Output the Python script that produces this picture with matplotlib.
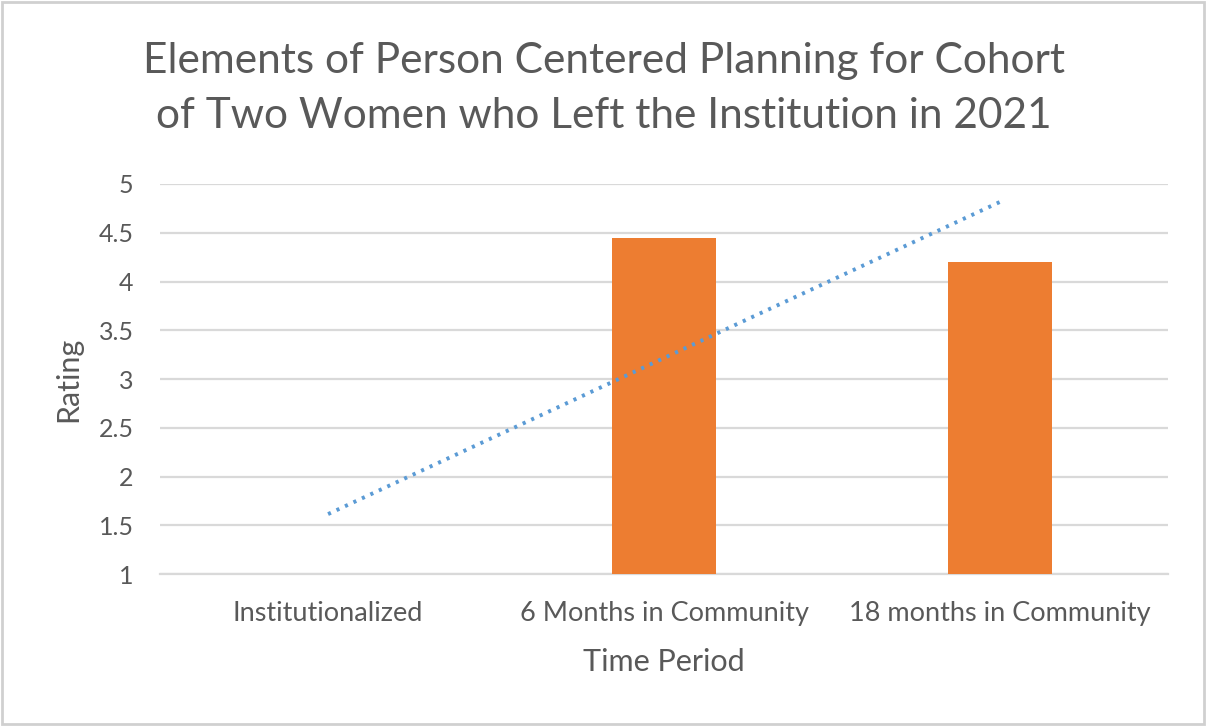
import numpy as np
import matplotlib.pyplot as plt
from matplotlib.patches import Rectangle

plt.rcParams['font.family'] = ['Lato', 'DejaVu Sans']

categories = ['Institutionalized', '6 Months in Community', '18 months in Community']
ratings = [1.0, 4.45, 4.2]
y_ticks = [1, 1.5, 2, 2.5, 3, 3.5, 4, 4.5, 5]
y_tick_labels = ['1', '1.5', '2', '2.5', '3', '3.5', '4', '4.5', '5']

text_grey = '#595959'

fig = plt.figure(figsize=(12.08, 7.26), dpi=100)
ax = fig.add_axes([0.1325, 0.209, 0.8345, 0.5376])

x = np.arange(len(categories))
ax.bar(x, ratings, width=0.31, bottom=0, color='#ED7D31', zorder=3)

# linear trendline like the spreadsheet one
slope, intercept = np.polyfit(x, ratings, 1)
ax.plot(x[[0, -1]], slope * x[[0, -1]] + intercept, color='#5B9BD5',
        linestyle=(0, (0.8, 1.6)), linewidth=2.8, zorder=4)

ax.set_xlim(-0.5, 2.5)
ax.set_ylim(1, 5)
ax.set_yticks(y_ticks)
ax.set_yticklabels(y_tick_labels)
ax.set_xticks(x)
ax.set_xticklabels(categories)
ax.yaxis.grid(True, color='#d9d9d9', linewidth=1.6, zorder=0)
ax.set_axisbelow(True)
for side in ['top', 'right', 'left']:
    ax.spines[side].set_visible(False)
ax.spines['bottom'].set_color('#d9d9d9')
ax.spines['bottom'].set_linewidth(1.6)
ax.tick_params(axis='both', length=0, colors=text_grey)
ax.tick_params(axis='y', pad=19, labelsize=18)
ax.tick_params(axis='x', pad=19, labelsize=19.5)

ax.set_xlabel('Time Period', fontsize=22, color=text_grey, labelpad=16)
ax.set_ylabel('Rating', fontsize=22, color=text_grey, labelpad=12)

fig.text(0.5, 0.878, 'Elements of Person Centered Planning for Cohort\nof Two Women who Left the Institution in 2021',
         ha='center', va='center', fontsize=30.5, color=text_grey, linespacing=1.55)

fig.patches.append(Rectangle((0.002, 0.003), 0.995, 0.994, transform=fig.transFigure,
                             fill=False, edgecolor='#d0d0d0', linewidth=2))

fig.savefig('out.png', dpi=100)
